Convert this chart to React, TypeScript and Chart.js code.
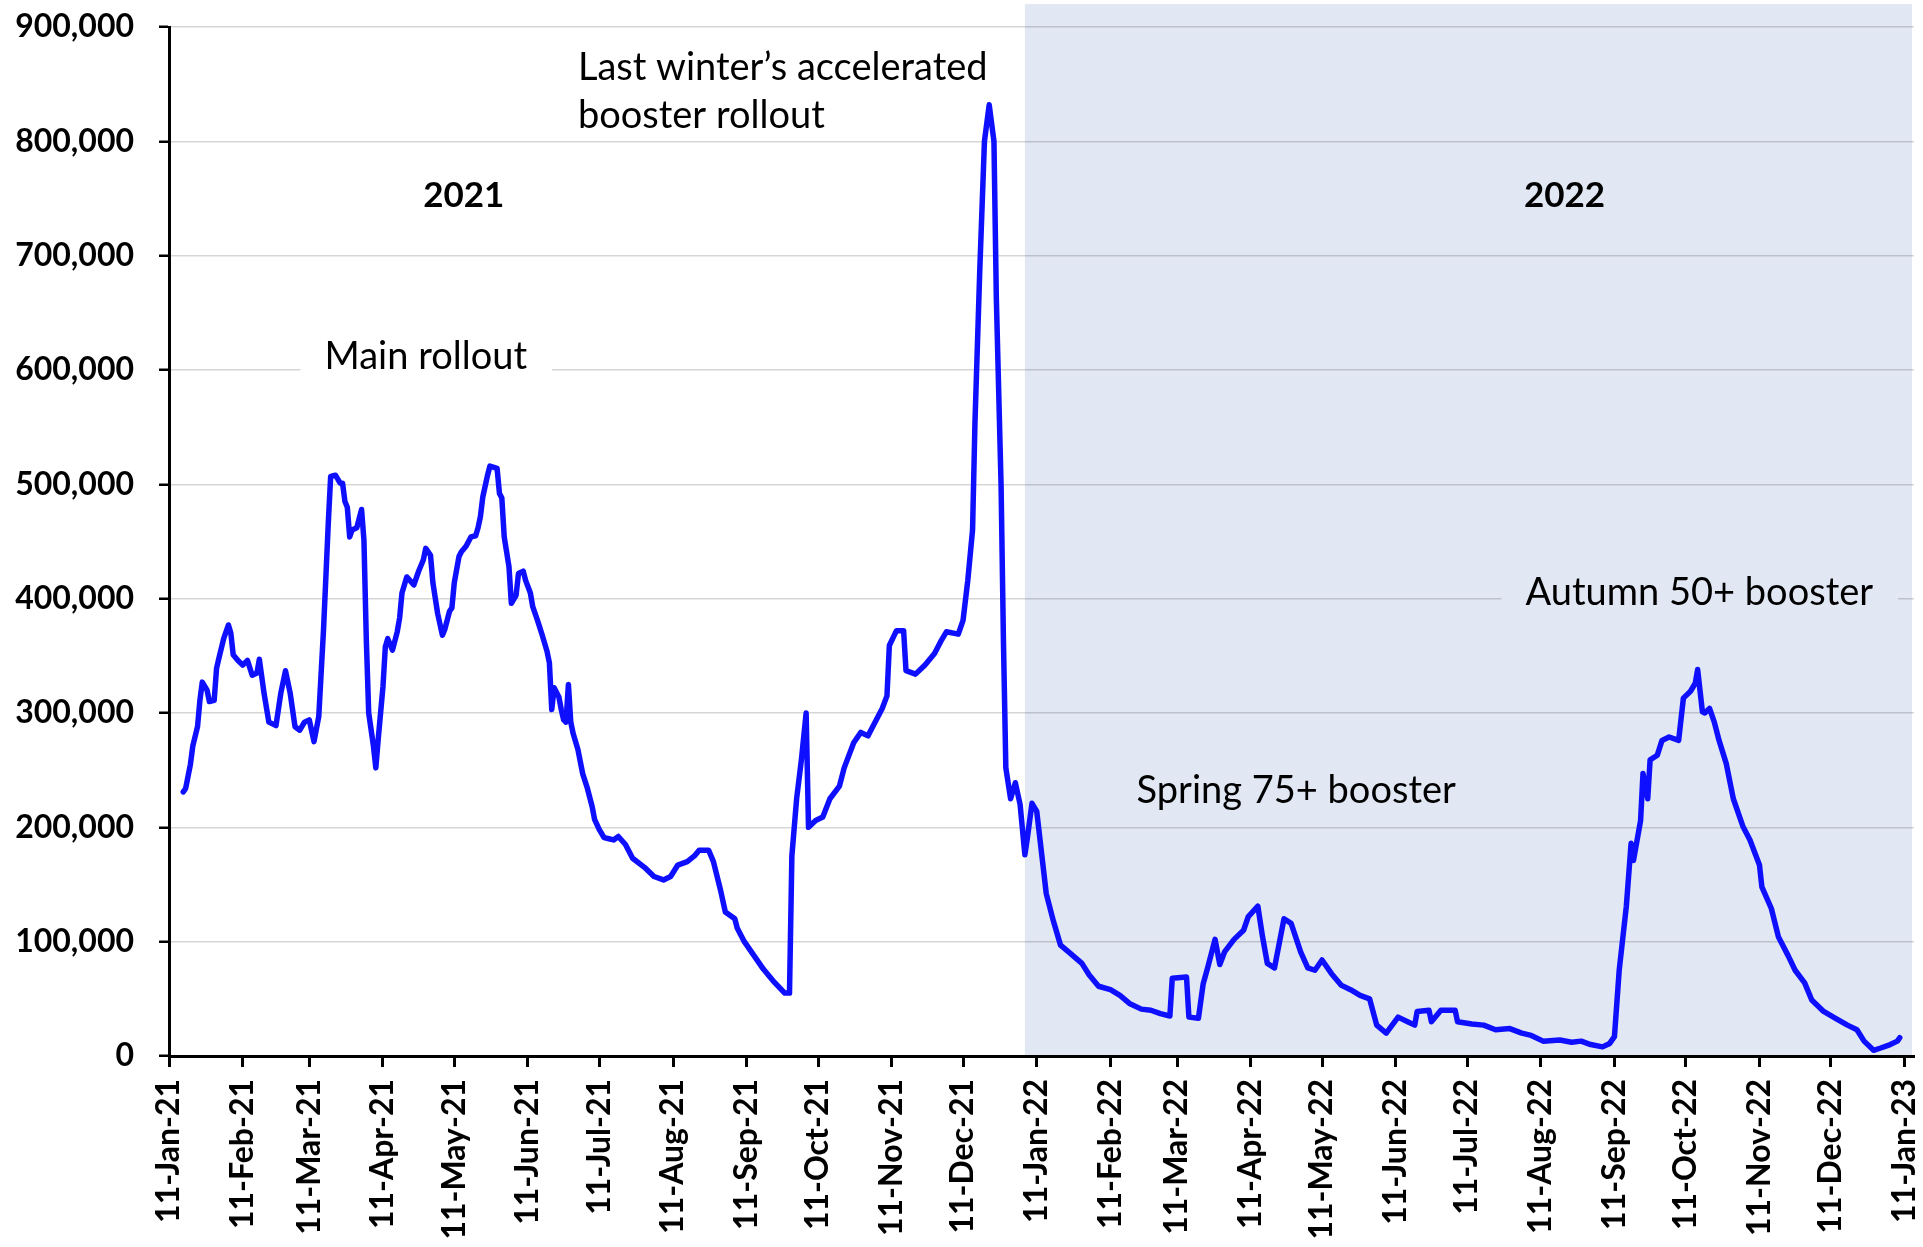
import { useEffect, useRef } from "react";
import { Chart, registerables } from "chart.js";

Chart.register(...registerables);

// Days counted from 11-Jan-2021
const daysSince11Jan21 = [
  6, 7, 9, 10, 12, 13, 14, 16, 17, 19, 20, 21, 23, 25, 26, 27, 29, 31, 33, 35, 37, 38, 40, 42, 45, 47, 49, 51, 53, 55,
  57, 59, 61, 63, 65, 67, 68, 70, 72, 73, 74, 75, 76, 77, 79, 81, 82, 83, 84, 86, 87, 88, 90, 91, 92, 94, 96, 97, 98, 100,
  103, 105, 107, 108, 110, 111, 113, 115, 116, 118, 119, 120, 122, 123, 125, 127, 129, 130, 131, 132, 134, 135, 138, 139, 140, 141, 143, 144, 146, 147,
  149, 150, 152, 153, 155, 157, 159, 160, 161, 162, 164, 165, 166, 167, 168, 169, 170, 172, 174, 176, 178, 179, 181, 183, 185, 187, 189, 192, 195, 200,
  204, 208, 211, 214, 218, 221, 223, 227, 229, 232, 234, 238, 239, 242, 246, 250, 254, 259, 261, 262, 264, 266, 268, 269, 272, 275, 278, 282, 284, 288,
  291, 294, 296, 300, 302, 303, 306, 309, 310, 314, 318, 322, 325, 327, 332, 334, 336, 338, 339, 341, 343, 345, 347, 348, 350, 351, 352, 354, 356, 358,
  360, 361, 363, 365, 367, 369, 372, 375, 379, 384, 387, 391, 396, 400, 404, 409, 413, 417, 421, 422, 428, 429, 433, 435, 437, 440, 442, 444, 448, 452,
  454, 458, 460, 462, 465, 469, 472, 476, 479, 482, 485, 489, 493, 497, 501, 505, 508, 512, 517, 521, 524, 525, 530, 531, 535, 541, 542, 548, 553, 558,
  564, 569, 573, 578, 585, 590, 594, 598, 603, 606, 608, 610, 613, 615, 616, 619, 620, 622, 623, 626, 628, 631, 635, 637, 640, 642, 643, 645, 646, 648,
  650, 652, 655, 658, 662, 665, 669, 670, 674, 677, 681, 684, 688, 691, 696, 701, 706, 710, 713, 717, 720, 724, 727, 728,
];

// Daily doses (thousands)
const dosesThousands = [
  231, 234, 255, 271, 288, 311, 327, 320, 310, 311, 339, 348, 365, 377, 370, 351, 346, 342, 346, 333, 335, 347, 317, 292, 289, 317, 337, 317, 288, 285,
  292, 294, 275, 297, 373, 466, 507, 508, 501, 501, 485, 480, 454, 460, 462, 478, 451, 364, 300, 271, 252, 277, 323, 358, 365, 355, 371, 383, 405, 419,
  412, 424, 434, 444, 438, 414, 387, 368, 373, 389, 392, 414, 437, 441, 446, 454, 455, 462, 472, 489, 508, 516, 514, 492, 488, 454, 428, 396, 403, 422,
  424, 416, 405, 393, 381, 368, 354, 344, 303, 322, 314, 303, 294, 292, 325, 292, 282, 268, 247, 234, 218, 207, 198, 191, 190, 189, 192, 185, 173, 165,
  157, 154, 157, 167, 170, 175, 180, 180, 170, 145, 126, 120, 112, 100, 88, 76, 66, 55, 55, 175, 225, 259, 300, 200, 206, 209, 225, 236, 252, 274,
  283, 280, 288, 304, 315, 359, 372, 372, 337, 334, 342, 352, 364, 371, 369, 381, 416, 460, 553, 685, 800, 832, 800, 663, 499, 362, 252, 225, 239, 220,
  176, 190, 221, 214, 178, 142, 118, 97, 90, 81, 71, 61, 58, 53, 46, 41, 40, 37, 35, 68, 69, 34, 33, 63, 78, 102, 80, 91, 102, 110,
  122, 131, 104, 81, 77, 120, 116, 91, 77, 75, 84, 72, 62, 58, 53, 50, 27, 20, 34, 30, 27, 39, 40, 30, 40, 40, 30, 28, 27, 23,
  24, 20, 18, 13, 14, 12, 13, 10, 8, 11, 17, 75, 131, 186, 171, 206, 247, 225, 259, 263, 276, 279, 276, 313, 319, 326, 338, 301, 300, 304,
  292, 276, 256, 225, 201, 189, 167, 148, 129, 104, 88, 75, 64, 49, 39, 33, 27, 23, 13, 5, 7, 10, 13, 16,
];

const xTickLabels = [
  "11-Jan-21", "11-Feb-21", "11-Mar-21", "11-Apr-21", "11-May-21", "11-Jun-21", "11-Jul-21", "11-Aug-21",
  "11-Sep-21", "11-Oct-21", "11-Nov-21", "11-Dec-21", "11-Jan-22", "11-Feb-22", "11-Mar-22", "11-Apr-22",
  "11-May-22", "11-Jun-22", "11-Jul-22", "11-Aug-22", "11-Sep-22", "11-Oct-22", "11-Nov-22", "11-Dec-22", "11-Jan-23",
];

const yearLabels = ["2021", "2022"];
const winterNote = ["Last winter\u2019s accelerated", "booster rollout"];
const mainNote = "Main rollout";
const springNote = "Spring 75+ booster";
const autumnNote = "Autumn 50+ booster";
const shadeStartDay = 360;

const MONTHS = ["Jan", "Feb", "Mar", "Apr", "May", "Jun", "Jul", "Aug", "Sep", "Oct", "Nov", "Dec"];
const labelToDay = (label: string) => {
  const [d, mon, yy] = label.split("-");
  const t = Date.UTC(2000 + Number(yy), MONTHS.indexOf(mon), Number(d));
  return Math.round((t - Date.UTC(2021, 0, 11)) / 86400000);
};
const xTickDays = xTickLabels.map(labelToDay);

const NOTE_FONT = "38px Lato";
const YEAR_FONT = "bold 35px Lato";
const SHADE = "#e1e7f3";

const decorPlugin = {
  id: "decor",
  beforeDraw(chart: any) {
    const { ctx, chartArea } = chart;
    const x = chart.scales.x;
    const y = chart.scales.y;
    const left = x.getPixelForValue(shadeStartDay);
    const top = y.getPixelForValue(920000);
    ctx.save();
    ctx.fillStyle = "#ffffff";
    ctx.fillRect(0, 0, chart.width, chart.height);
    ctx.fillStyle = SHADE;
    ctx.fillRect(left, top, chartArea.right - 2 - left, chartArea.bottom - top);
    ctx.restore();
  },
  afterDatasetsDraw(chart: any) {
    const { ctx } = chart;
    const x = chart.scales.x;
    const y = chart.scales.y;
    ctx.save();
    ctx.fillStyle = "#000";
    ctx.textBaseline = "alphabetic";

    const boxed = (text: string, day: number, value: number, bg: string) => {
      ctx.font = NOTE_FONT;
      const px = x.getPixelForValue(day);
      const py = y.getPixelForValue(value);
      const w = ctx.measureText(text).width;
      ctx.fillStyle = bg;
      ctx.fillRect(px - 24, py - 34, w + 49, 44);
      ctx.fillStyle = "#000";
      ctx.textAlign = "left";
      ctx.fillText(text, px, py);
    };

    // year labels
    ctx.font = YEAR_FONT;
    ctx.textAlign = "center";
    ctx.fillText(yearLabels[0], x.getPixelForValue(124), y.getPixelForValue(743000));
    ctx.fillText(yearLabels[1], x.getPixelForValue(587), y.getPixelForValue(743000));

    // winter note
    ctx.font = NOTE_FONT;
    ctx.textAlign = "left";
    ctx.fillText(winterNote[0], x.getPixelForValue(172), y.getPixelForValue(854000));
    ctx.fillText(winterNote[1], x.getPixelForValue(172), y.getPixelForValue(812000));

    boxed(mainNote, 65.4, 601000, "#ffffff");
    boxed(autumnNote, 570.6, 394600, SHADE);

    ctx.font = NOTE_FONT;
    ctx.textAlign = "left";
    ctx.fillStyle = "#000";
    ctx.fillText(springNote, x.getPixelForValue(407), y.getPixelForValue(221000));
    ctx.restore();
  },
};

export default function App() {
  const canvasRef = useRef<HTMLCanvasElement | null>(null);

  useEffect(() => {
    const canvas = canvasRef.current;
    if (!canvas) return;
    const points = daysSince11Jan21.map((d, i) => ({ x: d, y: dosesThousands[i] * 1000 }));
    const axisFont = { family: "Lato", weight: "bold" as const, size: 32 };

    const chart = new Chart(canvas, {
      type: "line",
      data: {
        datasets: [
          {
            label: "Daily doses",
            data: points,
            borderColor: "#0f0fff",
            borderWidth: 5.5,
            pointRadius: 0,
            tension: 0,
            fill: false,
            borderJoinStyle: "round",
            borderCapStyle: "round",
          },
        ],
      },
      options: {
        animation: false,
        responsive: false,
        maintainAspectRatio: false,
        devicePixelRatio: 1,
        layout: { padding: { top: 27, right: 9, left: 0, bottom: 0 } },
        plugins: {
          legend: { display: false },
          tooltip: { enabled: false },
          title: { display: false },
        },
        scales: {
          x: {
            type: "linear",
            min: 0,
            max: 734,
            afterBuildTicks: (s: any) => {
              s.ticks = xTickDays.map((v) => ({ value: v }));
            },
            afterFit: (s: any) => {
              s.height = 191;
              s.paddingLeft = 0;
              s.paddingRight = 0;
            },
            ticks: {
              autoSkip: false,
              minRotation: 90,
              maxRotation: 90,
              padding: 12,
              color: "#000",
              font: axisFont,
              callback: (_v: any, i: number) => xTickLabels[i],
            },
            grid: {
              drawOnChartArea: false,
              drawTicks: true,
              tickLength: 11,
              tickColor: "#000",
              tickWidth: 3,
            },
            border: { color: "#000", width: 3 },
          },
          y: {
            min: 0,
            max: 900000,
            afterFit: (s: any) => {
              s.width = 169;
              s.paddingTop = 0;
              s.paddingBottom = 0;
            },
            ticks: {
              stepSize: 100000,
              padding: 25,
              color: "#000",
              font: axisFont,
              callback: (v: any) => Number(v).toLocaleString("en-US"),
            },
            grid: {
              color: "rgba(0,0,0,0.16)",
              lineWidth: 1.5,
              drawTicks: true,
              tickLength: 10,
              tickColor: "#000",
              tickWidth: 2.5,
            },
            border: { color: "#000", width: 3 },
          },
        },
      },
      plugins: [decorPlugin],
    });
    return () => chart.destroy();
  }, []);

  return (
    <div style={{ position: "fixed", left: 0, top: 0, width: 1923, height: 1247, background: "#fff" }}>
      <canvas ref={canvasRef} width={1923} height={1247} style={{ display: "block", width: 1923, height: 1247 }} />
    </div>
  );
}
